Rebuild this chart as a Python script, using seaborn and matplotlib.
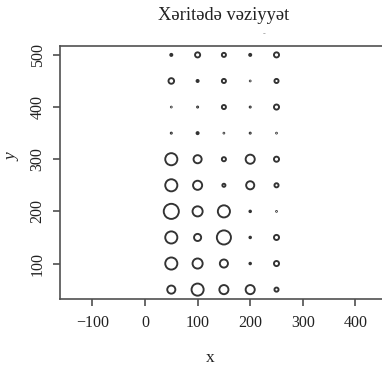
import numpy as np
import pandas as pd
import matplotlib
matplotlib.use("Agg")
import matplotlib.pyplot as plt
import seaborn as sns

# Grid positions
x_vals = [50, 100, 150, 200, 250]
y_vals = [500, 450, 400, 350, 300, 250, 200, 150, 100, 50]
# Circle diameters (relative units) per row (top to bottom), columns x=50..250
diam_500 = [4, 7, 6, 4, 7]
diam_450 = [7.5, 4, 6, 2, 6]
diam_400 = [2, 3, 6, 3, 7]
diam_350 = [3, 4, 2, 3, 2]
diam_300 = [14, 10, 6, 11, 7]
diam_250 = [14, 11, 5, 10, 6]
diam_200 = [17, 12, 14, 3.5, 2.5]
diam_150 = [14, 9, 16, 3.5, 7]
diam_100 = [14, 12, 10, 3.5, 7]
diam_050 = [10, 14, 11, 11, 6]
rows = [diam_500, diam_450, diam_400, diam_350, diam_300,
        diam_250, diam_200, diam_150, diam_100, diam_050]

title = "Xəritədə vəziyyət"
xticks = [-100, 0, 100, 200, 300, 400]
yticks = [100, 200, 300, 400, 500]

records = []
for yv, r in zip(y_vals, rows):
    for xv, d in zip(x_vals, r):
        records.append({"x": xv, "y": yv, "d": d})
df = pd.DataFrame(records)

W, H, DPI = 382, 367, 100
px2pt = 72.0 / DPI
lw_px = 1.9
# marker area (pt^2) proportional to (diameter - stroke)^2
df["area"] = (np.clip(df["d"] - lw_px, 0.8, None) * px2pt) ** 2
amax = df["area"].max()

sns.set_theme(style="white")
plt.rcParams["font.family"] = ["Liberation Serif", "DejaVu Serif"]

fig = plt.figure(figsize=(W / DPI, H / DPI), dpi=DPI)
ax = fig.add_axes([60.3 / W, 1 - 299 / H, (387.5 - 60.3) / W, (299 - 45.5) / H])

sns.scatterplot(data=df, x="x", y="y", size="area", sizes=(0, amax),
                size_norm=(0, amax), marker="o", facecolors="none",
                edgecolor="#333333", linewidth=lw_px * px2pt, legend=False, ax=ax)
for c in ax.collections:
    c.set_facecolor("none")
    c.set_edgecolor("#333333")

ax.set_xlim(-161, 461)
ax.set_ylim(32, 518)
ax.set_xticks(xticks)
ax.set_xticklabels(["\u2212100" if t < 0 else str(t) for t in xticks])
ax.set_yticks(yticks)
ax.set_yticklabels([str(t) for t in yticks], rotation=90, va="center")

for s in ["left", "top", "bottom", "right"]:
    ax.spines[s].set_color("#505050")
    ax.spines[s].set_linewidth(1.2)

ax.tick_params(axis="both", direction="out", length=5, width=1.1,
               color="#404040", labelsize=11.5, labelcolor="#222222",
               bottom=True, left=True)
ax.tick_params(axis="x", pad=6.5)
ax.tick_params(axis="y", pad=5.5)

ax.set_xlabel("x", fontsize=12.5, color="#222222")
ax.xaxis.set_label_coords((210 - 60.3) / (387.5 - 60.3), -(350 - 299) / 253.5)
ax.set_ylabel("y", fontsize=12.5, style="italic", color="#222222")
ax.yaxis.set_label_coords(-(60.3 - 20) / 327.2, (299 - 157) / 253.5)

fig.text(224 / W, 1 - 15 / H, title, ha="center", va="center",
         fontsize=13.3, color="#222222")
fig.text(264 / W, 1 - 34 / H, "-", ha="center", va="center",
         fontsize=6, color="#888888")

fig.savefig("out.png", dpi=DPI, facecolor="white")
